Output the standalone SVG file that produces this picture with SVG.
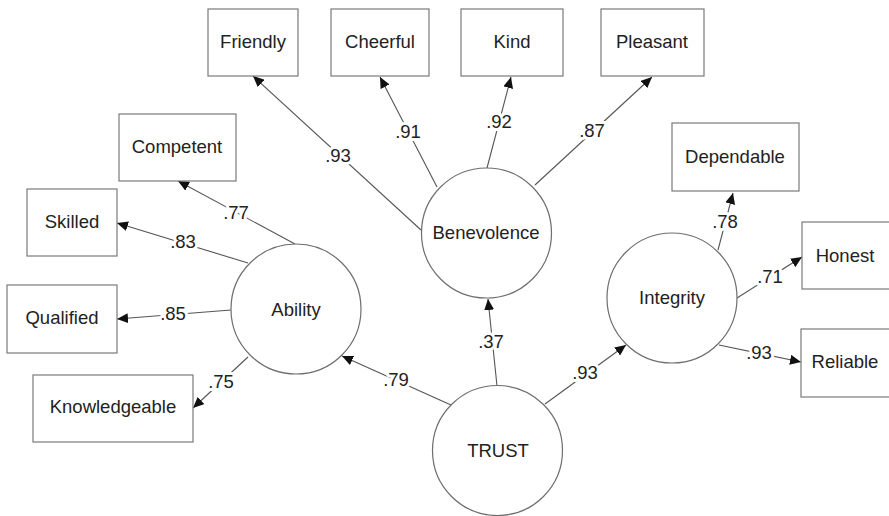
<svg xmlns="http://www.w3.org/2000/svg" width="889" height="516" viewBox="0 0 889 516">
<style>
.box{fill:#fff;stroke:#7a7a7a;stroke-width:1.2}
.lat{fill:#fff;stroke:#6e6e6e;stroke-width:1.2}
.lbl{font-family:"Liberation Sans",Arial,sans-serif;font-size:18.5px;fill:#222;text-anchor:middle}
.num{font-family:"Liberation Sans",Arial,sans-serif;font-size:18.5px;fill:#222;text-anchor:middle;stroke:#fff;stroke-width:6;paint-order:stroke;stroke-linejoin:round}
.edge{stroke:#555;stroke-width:1.1;fill:none;marker-end:url(#ah)}
</style>
<defs>
<marker id="ah" markerUnits="userSpaceOnUse" markerWidth="12" markerHeight="10" refX="11" refY="5" orient="auto">
<path d="M0,0 L11,5 L0,10 Z" fill="#111"/>
</marker>
</defs>
<rect width="889" height="516" fill="#fff"/>
<g id="connectors">
<line class="edge" x1="421" y1="230" x2="253" y2="76"/>
<line class="edge" x1="437" y1="187" x2="380" y2="77"/>
<line class="edge" x1="487" y1="168" x2="511" y2="77"/>
<line class="edge" x1="535" y1="185" x2="652" y2="77"/>
<line class="edge" x1="295" y1="244" x2="178" y2="181"/>
<line class="edge" x1="248" y1="263" x2="117" y2="223"/>
<line class="edge" x1="231" y1="310" x2="117" y2="319"/>
<line class="edge" x1="248" y1="357" x2="193" y2="408"/>
<line class="edge" x1="451" y1="405" x2="342" y2="356"/>
<line class="edge" x1="497" y1="386" x2="488" y2="299"/>
<line class="edge" x1="545" y1="404" x2="626" y2="345"/>
<line class="edge" x1="718" y1="250" x2="733" y2="193"/>
<line class="edge" x1="737" y1="298" x2="802" y2="257"/>
<line class="edge" x1="719" y1="345" x2="801" y2="362"/>
<text class="num" x="338" y="162">.93</text>
<text class="num" x="408" y="138">.91</text>
<text class="num" x="499" y="128">.92</text>
<text class="num" x="592" y="137">.87</text>
<text class="num" x="236" y="219">.77</text>
<text class="num" x="183" y="248">.83</text>
<text class="num" x="173" y="320">.85</text>
<text class="num" x="221" y="388">.75</text>
<text class="num" x="396" y="386">.79</text>
<text class="num" x="491" y="348">.37</text>
<text class="num" x="585" y="379">.93</text>
<text class="num" x="725" y="228">.78</text>
<text class="num" x="770" y="283">.71</text>
<text class="num" x="759" y="359">.93</text>
</g>
<g id="friendly"><rect class="box" x="208" y="9" width="90" height="67"/><text class="lbl" x="253" y="48">Friendly</text></g>
<g id="cheerful"><rect class="box" x="331" y="9" width="98" height="67"/><text class="lbl" x="380" y="48">Cheerful</text></g>
<g id="kind"><rect class="box" x="461" y="9" width="102" height="67"/><text class="lbl" x="512" y="48">Kind</text></g>
<g id="pleasant"><rect class="box" x="601" y="9" width="103" height="67"/><text class="lbl" x="652" y="48">Pleasant</text></g>
<g id="competent"><rect class="box" x="119" y="114" width="117" height="67"/><text class="lbl" x="177" y="153">Competent</text></g>
<g id="skilled"><rect class="box" x="27" y="189" width="90" height="67"/><text class="lbl" x="72" y="228">Skilled</text></g>
<g id="qualified"><rect class="box" x="7" y="285" width="110" height="68"/><text class="lbl" x="62" y="324">Qualified</text></g>
<g id="knowledgeable"><rect class="box" x="33" y="375" width="160" height="67"/><text class="lbl" x="113" y="413">Knowledgeable</text></g>
<g id="dependable"><rect class="box" x="672" y="123" width="127" height="68"/><text class="lbl" x="735" y="163">Dependable</text></g>
<g id="honest"><rect class="box" x="802" y="222" width="95" height="67"/><text class="lbl" x="845" y="262">Honest</text></g>
<g id="reliable"><rect class="box" x="801" y="329" width="96" height="68"/><text class="lbl" x="845" y="368">Reliable</text></g>
<g id="ability"><circle class="lat" cx="296" cy="309" r="65"/><text class="lbl" x="296" y="316">Ability</text></g>
<g id="benevolence"><circle class="lat" cx="486.5" cy="233" r="65"/><text class="lbl" x="486" y="239">Benevolence</text></g>
<g id="integrity"><circle class="lat" cx="672" cy="298" r="65"/><text class="lbl" x="672" y="304">Integrity</text></g>
<g id="trust"><circle class="lat" cx="497.5" cy="450.5" r="65"/><text class="lbl" x="498" y="457">TRUST</text></g>
</svg>
